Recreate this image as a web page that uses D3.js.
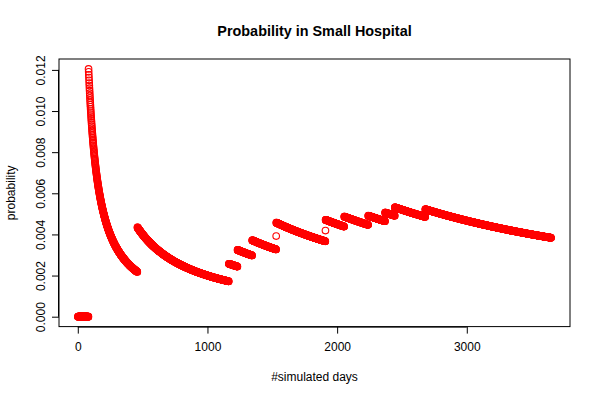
<!DOCTYPE html>
<html>
<head>
<meta charset="utf-8">
<script src="https://cdn.jsdelivr.net/npm/d3@7"></script>
<style>
  html, body { margin: 0; padding: 0; background: #fff; }
  svg { display: block; font-family: "Liberation Sans", Arial, Helvetica, sans-serif; }
</style>
</head>
<body>
<svg id="chart" width="600" height="400"></svg>
<script>
// ---- data ----
const chartTitle = "Probability in Small Hospital";
const xLabel = "#simulated days";
const yLabel = "probability";
const nDays = 3650;                       // number of simulated days
// days on which the event occurred (running probability = events so far / day)
const eventDays = [83, 460, 1165, 1232, 1345, 1530, 1531, 1910, 1911, 2055, 2240, 2370, 2445, 2680];
const xTicks = [0, 1000, 2000, 3000];
const yTicks = [0, 0.002, 0.004, 0.006, 0.008, 0.010, 0.012];

// running series built from the event days
const days = d3.range(1, nDays + 1);
const eventSet = new Set(eventDays);
let count = 0;
const probs = days.map(d => { if (eventSet.has(d)) count++; return count / d; });
const points = days.map((d, i) => ({ day: d, p: probs[i] }));

// ---- layout (R base graphics, 600x400) ----
const svg = d3.select("#chart");
const L = 59, R = 570, T = 59, B = 326.6;

const xExt = d3.extent(days), xPad = (xExt[1] - xExt[0]) * 0.04;
const yMax = d3.max(probs), yPad = yMax * 0.04;
const x = d3.scaleLinear().domain([xExt[0] - xPad, xExt[1] + xPad]).range([L, R]);
const y = d3.scaleLinear().domain([0 - yPad, yMax + yPad]).range([B, T]);

// points
svg.append("g").selectAll("circle").data(points).join("circle")
  .attr("cx", d => x(d.day)).attr("cy", d => y(d.p)).attr("r", 3.3)
  .attr("fill", "none").attr("stroke", "#ff0000").attr("stroke-width", 1.1);

// box
svg.append("rect").attr("x", L).attr("y", T).attr("width", R - L).attr("height", B - T)
  .attr("fill", "none").attr("stroke", "#000").attr("stroke-width", 1);

// x axis
const xAxis = d3.axisBottom(x).tickValues(xTicks).tickSize(7).tickPadding(9).tickFormat(d3.format("d"));
const gx = svg.append("g").attr("transform", `translate(0,${B})`).call(xAxis);
gx.select(".domain").attr("d", `M${x(xTicks[0])},0.5H${x(xTicks[xTicks.length - 1])}`);
gx.selectAll("text").attr("font-size", 12).attr("font-family", "Liberation Sans, Arial, sans-serif").attr("fill", "#000");
gx.selectAll("line").attr("stroke", "#000");

// y axis
const yAxis = d3.axisLeft(y).tickValues(yTicks).tickSize(7).tickFormat(d3.format(".3f"));
const gy = svg.append("g").attr("transform", `translate(${L},0)`).call(yAxis);
gy.select(".domain").attr("d", `M-0.5,${y(yTicks[0])}V${y(yTicks[yTicks.length - 1])}`);
gy.selectAll("line").attr("stroke", "#000");
gy.selectAll("text")
  .attr("font-size", 12).attr("font-family", "Liberation Sans, Arial, sans-serif").attr("fill", "#000")
  .attr("x", null).attr("dy", null)
  .attr("text-anchor", "middle")
  .attr("transform", "translate(-14.5,0) rotate(-90)");

// titles
svg.append("text").attr("x", (L + R) / 2).attr("y", 36).attr("text-anchor", "middle")
  .attr("font-size", 14.4).attr("font-weight", "bold").text(chartTitle);
svg.append("text").attr("x", (L + R) / 2).attr("y", 381).attr("text-anchor", "middle")
  .attr("font-size", 12).text(xLabel);
svg.append("text").attr("transform", `translate(15,${(T + B) / 2}) rotate(-90)`).attr("text-anchor", "middle")
  .attr("font-size", 12).text(yLabel);
</script>
</body>
</html>
